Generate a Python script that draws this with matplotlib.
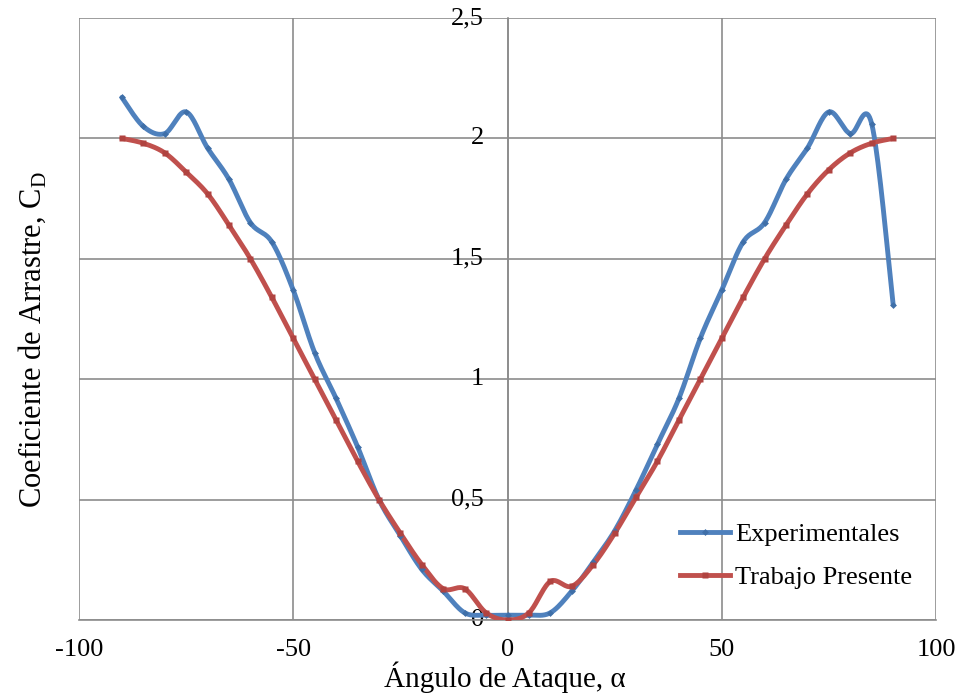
"""Coeficiente de arrastre vs. angulo de ataque (Excel-style smoothed lines)"""

import matplotlib

matplotlib.use("Agg")
import matplotlib.pyplot as plt
import numpy as np

plt.rcParams["font.family"] = ["Liberation Serif", "DejaVu Serif"]
plt.rcParams["axes.unicode_minus"] = False
plt.rcParams["mathtext.fontset"] = "custom"
plt.rcParams["mathtext.rm"] = "Liberation Serif"

# data
angles = [-90, -85, -80, -75, -70, -65, -60, -55, -50, -45, -40, -35, -30, -25, -20, -15, -10, -5, 0,
          5, 10, 15, 20, 25, 30, 35, 40, 45, 50, 55, 60, 65, 70, 75, 80, 85, 90]
cd_experimental = [2.17, 2.05, 2.02, 2.11, 1.96, 1.83, 1.65, 1.57, 1.37, 1.11, 0.92, 0.72, 0.50, 0.35,
                   0.21, 0.12, 0.03, 0.02, 0.02, 0.02, 0.03, 0.12, 0.24, 0.37, 0.54, 0.73, 0.92, 1.17,
                   1.37, 1.57, 1.65, 1.83, 1.96, 2.11, 2.02, 2.06, 1.31]
cd_presente = [2.00, 1.98, 1.94, 1.86, 1.77, 1.64, 1.50, 1.34, 1.17, 1.00, 0.83, 0.66, 0.50, 0.36,
               0.23, 0.13, 0.13, 0.03, 0.00, 0.03, 0.16, 0.14, 0.23, 0.36, 0.51, 0.66, 0.83, 1.00,
               1.17, 1.34, 1.50, 1.64, 1.77, 1.87, 1.94, 1.98, 2.00]
series_names = ["Experimentales", "Trabajo Presente"]
x_ticks = [-100, -50, 0, 50, 100]
y_ticks = [0, 0.5, 1, 1.5, 2, 2.5]
y_tick_labels = ["0", "0,5", "1", "1,5", "2", "2,5"]

BLUE = "#4F81BD"
RED = "#C0504D"
GRID = "#8C8C8C"
LW = 3.5


def smooth(x, y, n=20):
    """Excel-like smoothed line: cubic Bezier segments with Catmull-Rom control points."""
    x = np.asarray(x, float)
    y = np.asarray(y, float)
    px = np.concatenate([[x[0]], x, [x[-1]]])
    py = np.concatenate([[y[0]], y, [y[-1]]])
    t = np.linspace(0, 1, n)[:, None]
    xs, ys = [], []
    for i in range(1, len(px) - 2):
        p0 = np.array([px[i], py[i]])
        p3 = np.array([px[i + 1], py[i + 1]])
        p1 = p0 + (p3 - np.array([px[i - 1], py[i - 1]])) / 6
        p2 = p3 - (np.array([px[i + 2], py[i + 2]]) - p0) / 6
        b = (1 - t) ** 3 * p0 + 3 * (1 - t) ** 2 * t * p1 + 3 * (1 - t) * t**2 * p2 + t**3 * p3
        xs.append(b[:, 0])
        ys.append(b[:, 1])
    return np.concatenate(xs), np.concatenate(ys)


fig = plt.figure(figsize=(9.63, 6.95), dpi=100)
ax = fig.add_axes([79 / 963, 1 - 620 / 695, (936 - 79) / 963, (620 - 18) / 695])

for yvals, color, dark, marker, ms, name in [
    (cd_experimental, BLUE, "#3F6FA8", "D", 3.5, series_names[0]),
    (cd_presente, RED, "#B04340", "s", 4, series_names[1]),
]:
    sx, sy = smooth(angles, yvals)
    ax.plot(sx, sy, color=color, lw=LW, solid_capstyle="round", zorder=3)
    ax.plot(angles, yvals, ls="none", marker=marker, ms=ms, color=dark, mec="none", zorder=4)
    # legend proxy
    ax.plot([], [], color=color, lw=LW, marker=marker, ms=ms, mfc=dark, mec="none", label=name)

ax.set_xlim(-100, 100)
ax.set_ylim(0, 2.5)
ax.set_xticks(x_ticks)
ax.set_yticks(y_ticks)
ax.set_yticklabels(y_tick_labels)
ax.grid(True, color=GRID, lw=1.2, zorder=0)
ax.set_axisbelow(True)

for side in ["top", "right"]:
    ax.spines[side].set_visible(False)
ax.spines["left"].set_position(("data", 0))
ax.spines["left"].set_color(GRID)
ax.spines["bottom"].set_color(GRID)
ax.spines["left"].set_linewidth(1.2)
ax.spines["bottom"].set_linewidth(1.2)
ax.tick_params(axis="both", length=0, labelsize=19)
ax.tick_params(axis="y", pad=17)
ax.tick_params(axis="x", pad=14)
for lbl in ax.get_yticklabels():
    lbl.set_verticalalignment("center")

fig.text(505 / 963, 1 - 687 / 695, "Ángulo de Ataque, α", ha="center", va="baseline", fontsize=21)
fig.text(32 / 963, 1 - 340 / 695, r"Coeficiente de Arrastre, C$_\mathrm{D}$", ha="center", va="center",
         rotation=90, fontsize=22)

handles, labels = ax.get_legend_handles_labels()
ax.legend(handles, labels, loc="center left", bbox_to_anchor=(680 / 963, 1 - 556 / 695),
          bbox_transform=fig.transFigure, frameon=False, fontsize=19, borderpad=0, borderaxespad=0,
          handlelength=1.9, handletextpad=0.2, labelspacing=0.75, numpoints=1)

fig.savefig("out.png", dpi=100)
